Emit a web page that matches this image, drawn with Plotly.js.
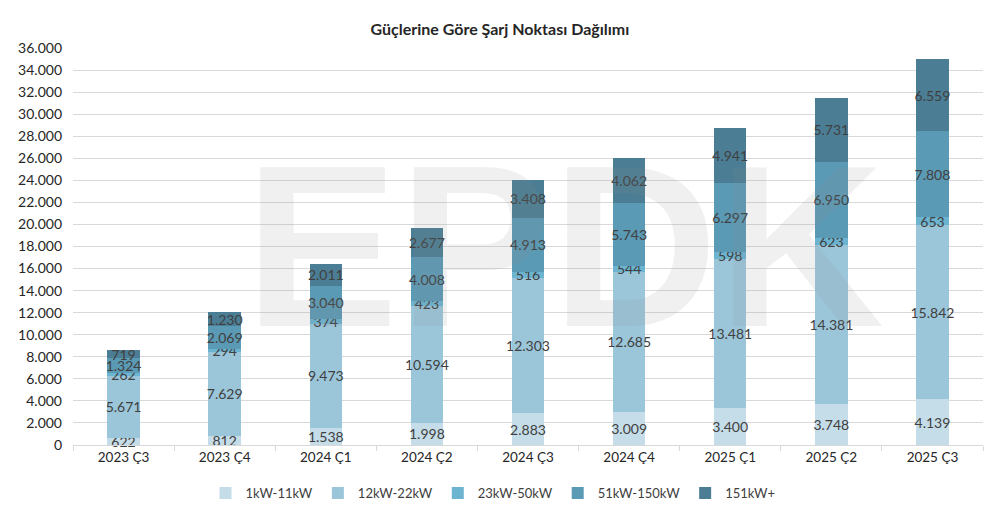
<!DOCTYPE html>
<html>
<head>
<meta charset="utf-8">
<script src="https://cdn.plot.ly/plotly-3.0.1.min.js"></script>
<style>html,body{margin:0;padding:0;background:#fff;}#chart{width:986px;height:518px;}</style>
</head>
<body>
<div id="chart"></div>
<script>
const categories = ["2023 Ç3","2023 Ç4","2024 Ç1","2024 Ç2","2024 Ç3","2024 Ç4","2025 Ç1","2025 Ç2","2025 Ç3"];
const seriesNames = ["1kW-11kW","12kW-22kW","23kW-50kW","51kW-150kW","151kW+"];
const kw1_11   = [622, 812, 1538, 1998, 2883, 3009, 3400, 3748, 4139];
const kw12_22  = [5671, 7629, 9473, 10594, 12303, 12685, 13481, 14381, 15842];
const kw23_50  = [262, 294, 374, 423, 516, 544, 598, 623, 653];
const kw51_150 = [1324, 2069, 3040, 4008, 4913, 5743, 6297, 6950, 7808];
const kw151p   = [719, 1230, 2011, 2677, 3408, 4062, 4941, 5731, 6559];
const yTicks = [0,2000,4000,6000,8000,10000,12000,14000,16000,18000,20000,22000,24000,26000,28000,30000,32000,34000,36000];

const values = [kw1_11, kw12_22, kw23_50, kw51_150, kw151p];
const colors = ["#c5dde8", "#9bc6da", "#6db4d0", "#5b9ab5", "#4b7e95"];
const FONT = "Lato, 'Open Sans', sans-serif";

const traces = values.map((v, i) => ({
  type: "bar",
  name: seriesNames[i],
  x: categories,
  y: v,
  marker: {color: colors[i], line: {width: 0}},
  text: v,
  texttemplate: "%{y:,}",
  textposition: "inside",
  insidetextanchor: "middle",
  constraintext: "none",
  textangle: 0,
  textfont: {family: FONT, size: 14, color: "#404040"},
  hoverinfo: "x+y+name",
  cliponaxis: false
}));

const layout = {
  width: 986, height: 518,
  barmode: "stack",
  bargap: 0.68,
  separators: ",.",
  paper_bgcolor: "#ffffff",
  plot_bgcolor: "#ffffff",
  font: {family: FONT, size: 13, color: "#404040"},
  margin: {l: 73, r: 3, t: 48, b: 73},
  title: {
    text: "<b>Güçlerine Göre Şarj Noktası Dağılımı</b>",
    font: {family: FONT, size: 16, color: "#262626"},
    x: 0.507, xref: "container", xanchor: "center",
    y: 0.943, yref: "container", yanchor: "middle"
  },
  xaxis: {
    type: "category",
    tickfont: {family: FONT, size: 13.5, color: "#262626"},
    showgrid: false,
    showline: true, linecolor: "#d9d9d9", linewidth: 1,
    ticks: "outside", tickson: "boundaries", ticklen: 5, tickcolor: "#d9d9d9",
    zeroline: false
  },
  yaxis: {
    range: [0, 36000],
    tickvals: yTicks,
    tickformat: ",",
    tickfont: {family: FONT, size: 14, color: "#262626"},
    showgrid: true, gridcolor: "#d9d9d9", gridwidth: 1,
    zeroline: false, showline: false,
    ticks: "", ticklabelstandoff: 10
  },
  legend: {
    orientation: "h",
    x: 0.50, xref: "container", xanchor: "center",
    y: 0.048, yref: "container", yanchor: "middle",
    font: {family: FONT, size: 13, color: "#404040"},
    itemwidth: 30,
    traceorder: "normal",
    itemclick: false
  },
  annotations: [{
    text: "<b>EPDK</b>",
    xref: "paper", yref: "paper", x: 0.54, y: 0.50,
    xanchor: "center", yanchor: "middle",
    showarrow: false,
    font: {family: "'Liberation Sans', Arial, sans-serif", size: 230, color: "rgba(140,140,140,0.13)"}
  }]
};

Plotly.newPlot("chart", traces, layout, {displayModeBar: false, staticPlot: true});
</script>
</body>
</html>
